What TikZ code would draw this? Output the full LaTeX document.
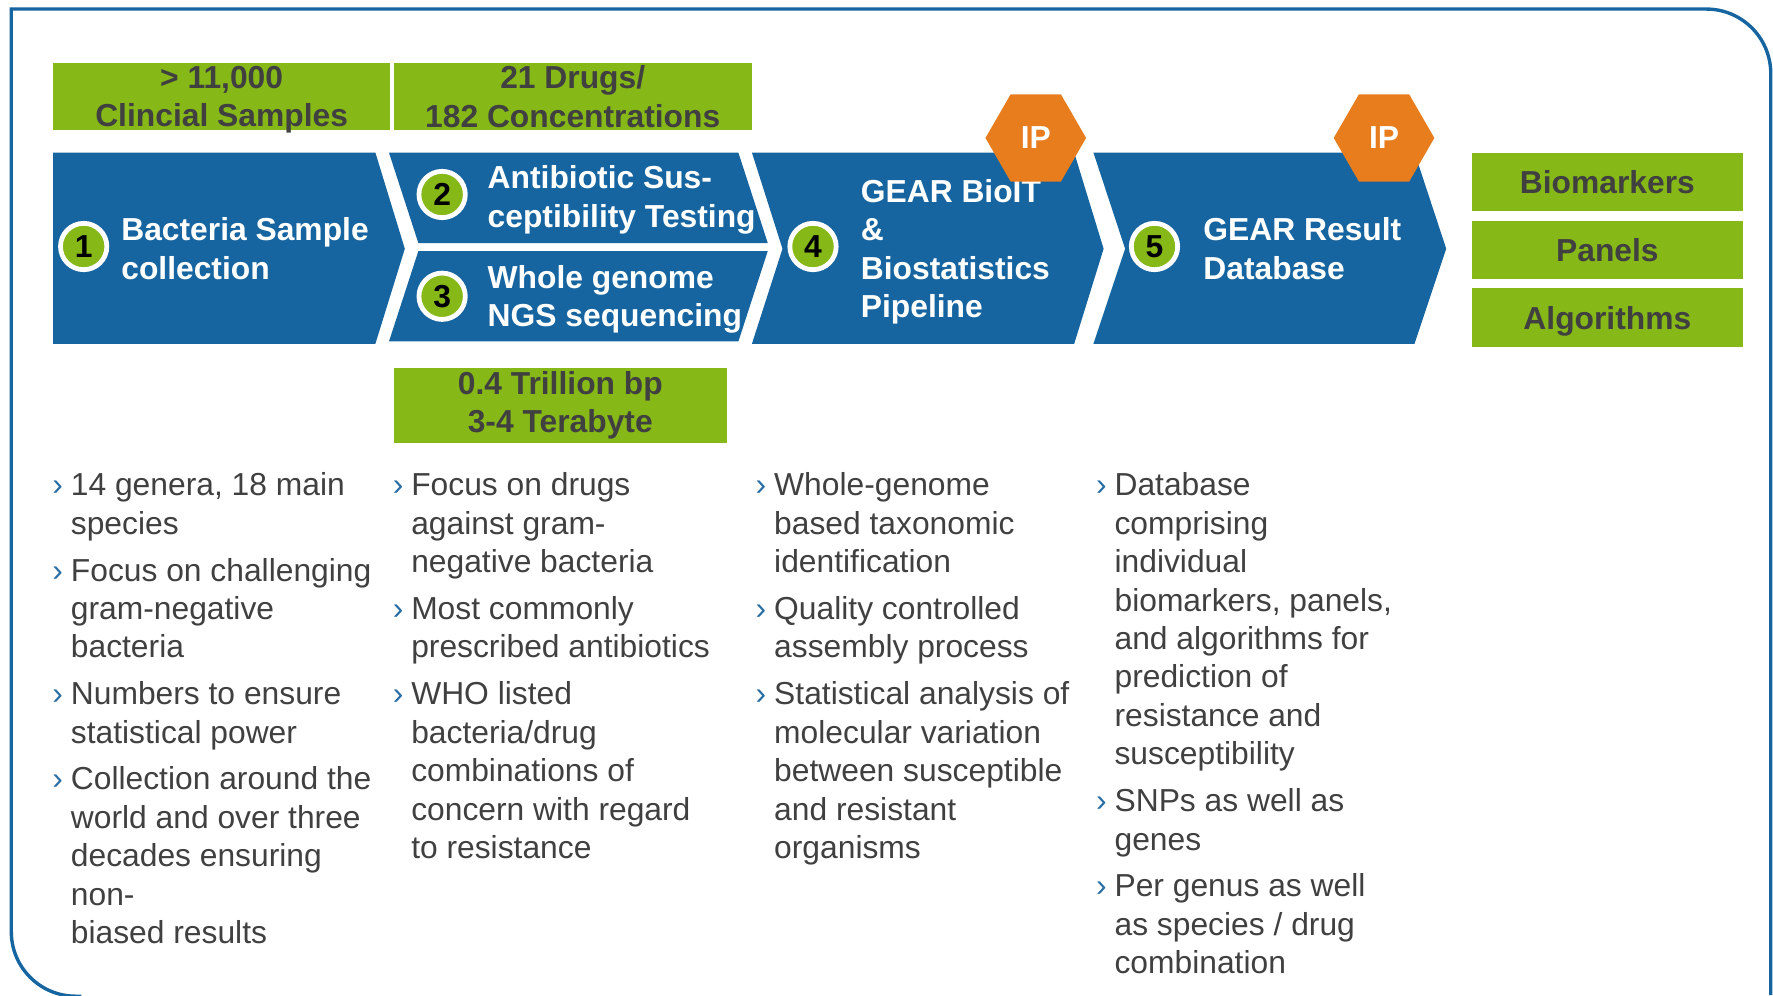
\documentclass[tikz,border=0pt]{standalone}
\usepackage{fontspec}
\setmainfont{Liberation Sans}
\usepackage{tikz}
\usetikzlibrary{positioning, shapes.geometric}

\definecolor{gearblue}{RGB}{23,101,160}
\definecolor{geargreen}{RGB}{134,184,23}
\definecolor{iporange}{RGB}{232,125,30}
\definecolor{textgray}{RGB}{64,64,64}
\definecolor{bulletblue}{RGB}{40,110,165}

\newcommand{\bul}{\strut\llap{\textcolor{bulletblue}{›}\hspace{0.7mm}}}

\begin{document}
\begin{tikzpicture}[
    box/.style={fill=geargreen, text=textgray, font=\bfseries\fontsize{8}{9.67}\selectfont, align=center, inner sep=0pt},
    num/.style={circle, fill=geargreen, draw=white, line width=1.2pt, minimum size=0.41cm, inner sep=0pt, font=\bfseries\fontsize{8}{9.67}\selectfont},
    steptext/.style={text=white, font=\bfseries\fontsize{8}{9.67}\selectfont, align=left, inner sep=0pt, execute at end node=\strut, yshift=-0.5mm},
    ip/.style={regular polygon, regular polygon sides=6, minimum size=0.89cm, inner sep=0pt, fill=iporange, text=white, font=\bfseries\fontsize{8}{9.67}\selectfont},
    item/.style={text=textgray, font=\fontsize{8}{9.67}\selectfont, align=left, inner sep=0pt, anchor=north west, execute at end node=\strut}
]
    \useasboundingbox (0, 0) rectangle (15.68, -8.80);

    % frame
    \draw[gearblue, line width=0.85pt] (15.66, -8.80) -- (15.66, -0.65)
        arc[start angle=0, end angle=90, radius=0.57] -- (0.10, -0.08) -- (0.10, -8.24)
        arc[start angle=180, end angle=270, radius=0.57] -- (0.72, -8.81);

    % chevrons
    \fill[gearblue] (0.47, -1.35) -- (3.32, -1.35) -- (3.58, -2.20) -- (3.32, -3.04) -- (0.47, -3.04) -- cycle;
    \fill[gearblue] (3.44, -1.35) -- (6.53, -1.35) -- (6.79, -2.15) -- (3.70, -2.15) -- cycle;
    \fill[gearblue] (3.70, -2.22) -- (6.79, -2.22) -- (6.53, -3.02) -- (3.44, -3.02) -- cycle;
    \fill[gearblue] (6.65, -1.35) -- (9.50, -1.35) -- (9.76, -2.20) -- (9.50, -3.04) -- (6.65, -3.04) -- (6.92, -2.20) -- cycle;
    \fill[gearblue] (9.67, -1.35) -- (12.51, -1.35) -- (12.79, -2.20) -- (12.51, -3.04) -- (9.67, -3.04) -- (9.95, -2.20) -- cycle;

    % green boxes
    \node[box, minimum width=2.98cm, minimum height=0.59cm] (samples) at (1.96, -0.855) {> 11,000\\Clincial Sam\smash{p}les};
    \node[box, minimum width=3.17cm, minimum height=0.59cm] (drugs) at (5.065, -0.855) {21 Drugs/\\182 Concentrations};
    \node[box, minimum width=2.95cm, minimum height=0.67cm] (bp) at (4.955, -3.585) {0.4 Trillion bp\\3-4 Terabyte};
    \node[box, minimum width=2.39cm, minimum height=0.52cm] (biomarkers) at (14.215, -1.61) {Biomarkers};
    \node[box, minimum width=2.39cm, minimum height=0.52cm] (panels) at (14.215, -2.21) {Panels};
    \node[box, minimum width=2.39cm, minimum height=0.52cm] (algorithms) at (14.215, -2.81) {Al\smash{g}orithms};

    % numbered steps
    \node[num] (1) at (0.74, -2.18) {1};
    \node[num] (2) at (3.91, -1.72) {2};
    \node[num] (3) at (3.91, -2.62) {3};
    \node[num] (4) at (7.19, -2.18) {4};
    \node[num] (5) at (10.21, -2.18) {5};

    \node[steptext, right=0.10cm of 1] (t1) {\strut Bacteria Sample\\collection};
    \node[steptext, right=0.17cm of 2] (t2) {\strut Antibiotic Sus-\\ceptibility Testing};
    \node[steptext, right=0.17cm of 3, yshift=0.2mm] (t3) {\strut Whole genome\\NGS sequencing};
    \node[steptext, right=0.19cm of 4] (t4) {\strut GEAR BioIT\\\&\\Biostatistics\\Pipeline};
    \node[steptext, right=0.20cm of 5] (t5) {\strut GEAR Result\\Database};

    \node[ip] (ip1) at (9.16, -1.22) {IP};
    \node[ip] (ip2) at (12.24, -1.22) {IP};

    % bullet columns
    \node[item] (a1) at (0.62, -4.14) {\bul 14 genera, 18 main\\species};
    \node[item, below right=0.06cm and 0cm of a1.south west] (a2) {\bul Focus on challenging\\gram-negative\\bacteria};
    \node[item, below right=0.06cm and 0cm of a2.south west] (a3) {\bul Numbers to ensure\\statistical power};
    \node[item, below right=0.06cm and 0cm of a3.south west] (a4) {\bul Collection around the\\world and over three\\decades ensuring\\non-\\biased results};

    \node[item] (b1) at (3.63, -4.14) {\bul Focus on drugs\\against gram-\\negative bacteria};
    \node[item, below right=0.06cm and 0cm of b1.south west] (b2) {\bul Most commonly\\prescribed antibiotics};
    \node[item, below right=0.06cm and 0cm of b2.south west] (b3) {\bul WHO listed\\bacteria/drug\\combinations of\\concern with regard\\to resistance};

    \node[item] (c1) at (6.84, -4.14) {\bul Whole-genome\\based taxonomic\\identification};
    \node[item, below right=0.06cm and 0cm of c1.south west] (c2) {\bul Quality controlled\\assembly process};
    \node[item, below right=0.06cm and 0cm of c2.south west] (c3) {\bul Statistical analysis of\\molecular variation\\between susceptible\\and resistant\\organisms};

    \node[item] (d1) at (9.85, -4.14) {\bul Database\\comprising\\individual\\biomarkers, panels,\\and algorithms for\\prediction of\\resistance and\\susceptibility};
    \node[item, below right=0.06cm and 0cm of d1.south west] (d2) {\bul SNPs as well as\\genes};
    \node[item, below right=0.06cm and 0cm of d2.south west] (d3) {\bul Per genus as well\\as species / drug\\combination};
\end{tikzpicture}
\end{document}
